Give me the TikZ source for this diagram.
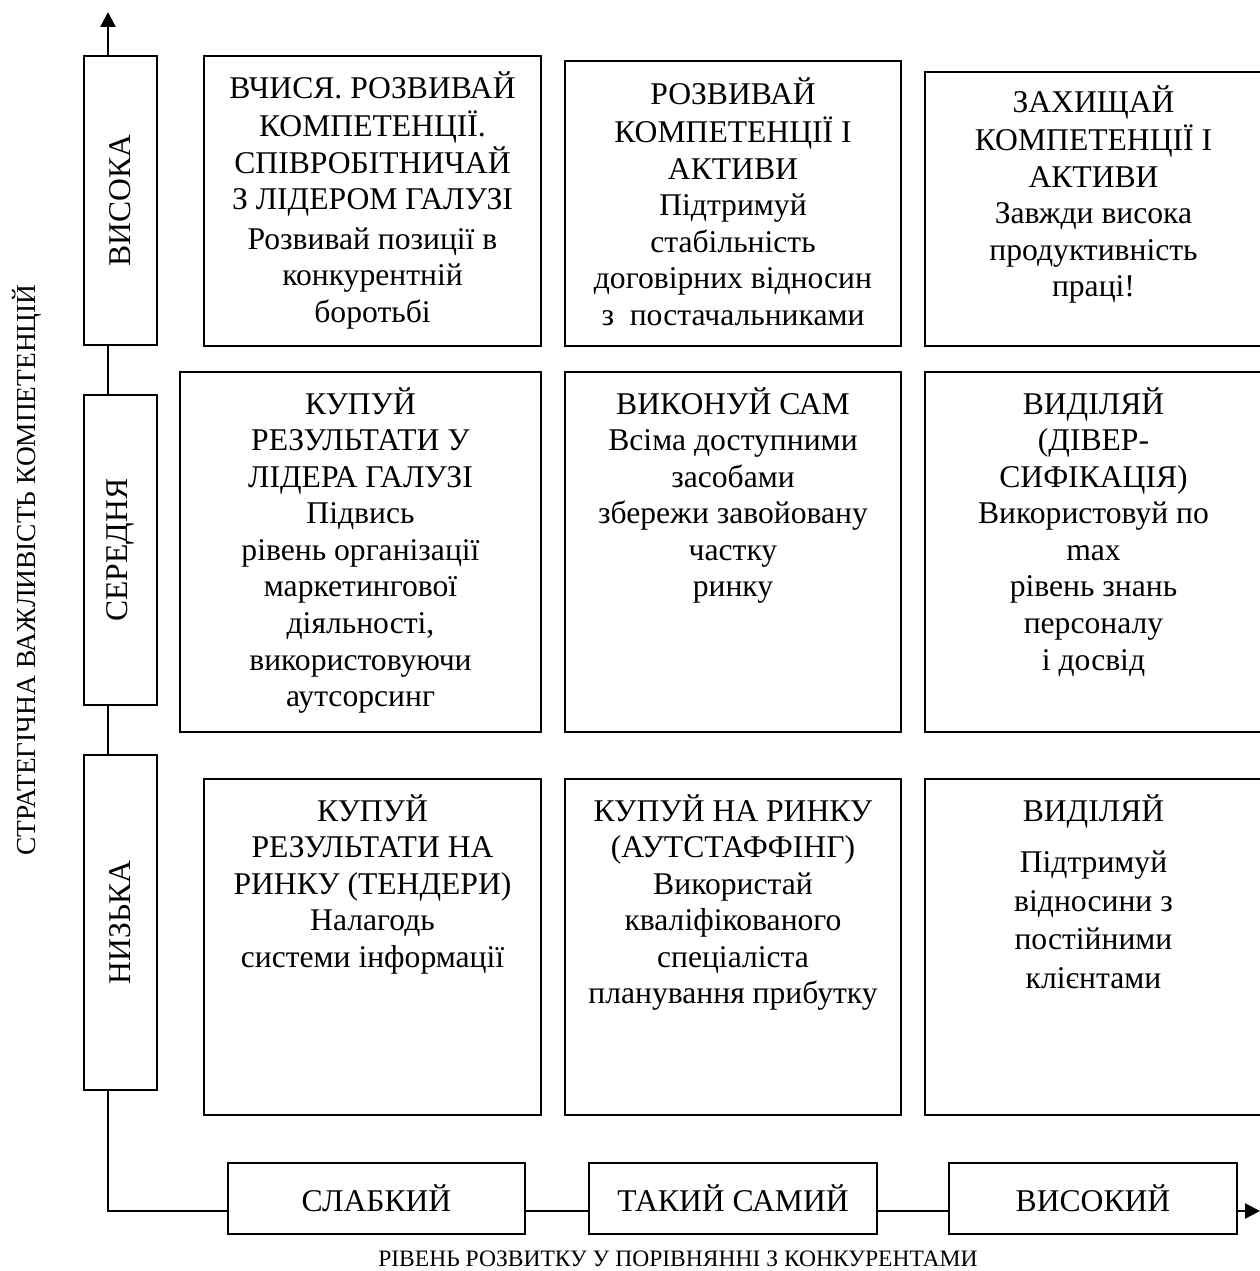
\documentclass[tikz,border=0pt]{standalone}
\usepackage{fontspec}
\setmainfont{Liberation Serif}
\usetikzlibrary{arrows.meta,positioning}

\newcommand\cellfont{\fontsize{18}{20.8}\selectfont}
\newcommand\ylabelfont{\fontsize{15.6}{18}\selectfont}
\newcommand\xlabelfont{\fontsize{13.4}{16}\selectfont}

\tikzset{
  cell/.style={draw, line width=1.1pt, inner sep=0pt, outer sep=0pt},
  celltext/.style={align=center, inner sep=0pt, anchor=north, font=\cellfont},
  levelbox/.style={draw, fill=white, line width=1.1pt, inner sep=0pt, outer sep=0pt, font=\cellfont},
  vlevel/.style={levelbox, rotate=90, minimum height=1.46cm},
  hlevel/.style={levelbox, minimum height=1.42cm},
  axisline/.style={line width=1.3pt},
  axisarrow/.style={line width=1.3pt, -{Triangle[length=0.3cm,width=0.3cm]}},
  axislabel/.style={inner sep=0pt},
}

\begin{document}
\begin{tikzpicture}[x=0.02cm, y=-0.02cm]
\useasboundingbox (0,0) rectangle (1260,1271);

\coordinate (origin) at (108,1211);
\coordinate (ytip) at (108,12);
\coordinate (xtip) at (1260,1211);

% levels on the axes
\node[vlevel, minimum width=5.78cm] (vhigh) at (120.5,200.5) {ВИСОКА};
\node[vlevel, minimum width=6.2cm] (vmid) at (120.5,550) {СЕРЕДНЯ};
\node[vlevel, minimum width=6.7cm] (vlow) at (120.5,922.5) {НИЗЬКА};

\node[hlevel, minimum width=5.94cm] (xweak) at (376.5,1198.5) {СЛАБКИЙ};
\node[hlevel, minimum width=5.76cm] (xsame) at (733,1198.5) {ТАКИЙ САМИЙ};
\node[hlevel, minimum width=5.76cm] (xhigh) at (1093,1198.5) {ВИСОКИЙ};

% axes
\draw[axisline] (origin |- vlow.west) -- (origin) -- (xweak.west |- origin);
\draw[axisline] (origin |- vlow.east) -- (origin |- vmid.west);
\draw[axisline] (origin |- vmid.east) -- (origin |- vhigh.west);
\draw[axisarrow] (origin |- vhigh.east) -- (ytip);
\draw[axisline] (xweak.east |- origin) -- (xsame.west |- origin);
\draw[axisline] (xsame.east |- origin) -- (xhigh.west |- origin);
\draw[axisarrow] (xhigh.east |- origin) -- (xtip);

\node[axislabel, font=\ylabelfont, rotate=90, anchor=base] (ylabel) at (35,570) {СТРАТЕГІЧНА ВАЖЛИВІСТЬ КОМПЕТЕНЦІЙ};
\node[axislabel, font=\xlabelfont, anchor=base] (xlabel) at (678,1266) {РІВЕНЬ РОЗВИТКУ У ПОРІВНЯННІ З КОНКУРЕНТАМИ};

% matrix cells
\node[cell, minimum width=6.74cm, minimum height=5.8cm] (c11) at (372.5,201) {};
\node[cell, minimum width=6.72cm, minimum height=5.7cm] (c12) at (733,203.5) {};
\node[cell, minimum width=6.74cm, minimum height=5.48cm] (c13) at (1093.5,209) {};
\node[cell, minimum width=7.22cm, minimum height=7.2cm] (c21) at (360.5,552) {};
\node[cell, minimum width=6.72cm, minimum height=7.2cm] (c22) at (733,552) {};
\node[cell, minimum width=6.74cm, minimum height=7.2cm] (c23) at (1093.5,552) {};
\node[cell, minimum width=6.74cm, minimum height=6.72cm] (c31) at (372.5,947) {};
\node[cell, minimum width=6.72cm, minimum height=6.72cm] (c32) at (733,947) {};
\node[cell, minimum width=6.74cm, minimum height=6.72cm] (c33) at (1093.5,947) {};

\node[celltext, below=0.3cm of c11.north] (t11) {\strut ВЧИСЯ. РОЗВИВАЙ\\КОМПЕТЕНЦІЇ.\\СПІВРОБІТНИЧАЙ\\З ЛІДЕРОМ ГАЛУЗІ\\[0.06cm]Розвивай позиції в\\конкурентній\\боротьбі};
\node[celltext, below=0.32cm of c12.north] (t12) {\strut РОЗВИВАЙ\\КОМПЕТЕНЦІЇ І\\АКТИВИ\\Підтримуй\\стабільність\\договірних відносин\\з~ постачальниками};
\node[celltext, below=0.26cm of c13.north] (t13) {\strut ЗАХИЩАЙ\\КОМПЕТЕНЦІЇ І\\АКТИВИ\\Завжди висока\\продуктивність\\праці!};
\node[celltext, below=0.3cm of c21.north] (t21) {\strut КУПУЙ\\РЕЗУЛЬТАТИ У\\ЛІДЕРА ГАЛУЗІ\\Підвись\\рівень організації\\маркетингової\\діяльності,\\використовуючи\\аутсорсинг};
\node[celltext, below=0.3cm of c22.north] (t22) {\strut ВИКОНУЙ САМ\\Всіма доступними\\засобами\\збережи завойовану\\частку\\ринку};
\node[celltext, below=0.3cm of c23.north] (t23) {\strut ВИДІЛЯЙ\\(ДІВЕР-\\СИФІКАЦІЯ)\\Використовуй по\\max\\рівень знань\\персоналу\\і досвід};
\node[celltext, below=0.3cm of c31.north] (t31) {\strut КУПУЙ\\РЕЗУЛЬТАТИ НА\\РИНКУ (ТЕНДЕРИ)\\Налагодь\\системи інформації};
\node[celltext, below=0.3cm of c32.north] (t32) {\strut КУПУЙ НА РИНКУ\\(АУТСТАФФІНГ)\\Використай\\кваліфікованого\\спеціаліста\\планування прибутку};
\node[celltext, below=0.3cm of c33.north] (t33) {\strut ВИДІЛЯЙ\\[0.3cm]Підтримуй\\[0.04cm]відносини з\\[0.04cm]постійними\\[0.04cm]клієнтами};

\end{tikzpicture}
\end{document}
